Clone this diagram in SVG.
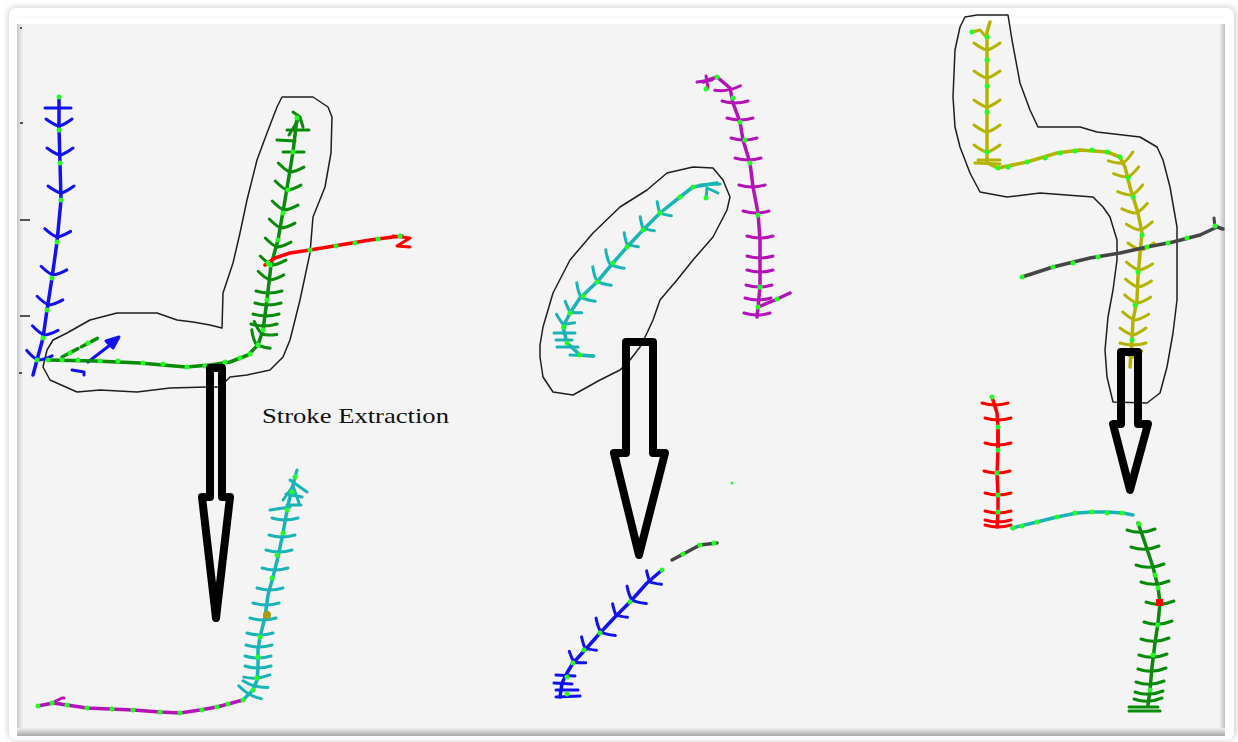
<svg xmlns="http://www.w3.org/2000/svg" xmlns:xlink="http://www.w3.org/1999/xlink" width="1238" height="742" viewBox="0 0 1238 742">
<style>
.ln{fill:none;stroke-width:3.5;stroke-linecap:round;stroke-linejoin:round}
.bb{fill:none;stroke-width:3;stroke-linecap:round;stroke-linejoin:round}
.ol{fill:none;stroke:#1e1e1e;stroke-width:1.5;stroke-linejoin:round}
.ar{fill:none;stroke:#000;stroke-width:8;stroke-linejoin:round}
.blue{stroke:#1212f0}.grn{stroke:#0a8a0a}.red{stroke:#f00}.cyan{stroke:#1ab4b8}.mag{stroke:#b412b8}.oli{stroke:#b4b400}.dk{stroke:#454545}
.n{fill:#22ff22}
.lbl{font-family:"Liberation Serif","Times New Roman",serif;font-size:22px;fill:#111}
</style>
<defs>
<path id="V" d="M-13,-7 Q-5,-1 0,0 Q5,-1 13,-7"/>
<path id="v" d="M-10,-6 Q-3,-1 0,0 Q3,-1 10,-6"/>
<path id="H" d="M-13,-2 Q0,2 13,-2"/>
<path id="U" d="M-14,-3 Q0,2 14,-4"/>
<circle id="d" r="2.5"/>
<filter id="sh" x="-5%" y="-5%" width="110%" height="110%"><feGaussianBlur stdDeviation="3"/></filter>
<linearGradient id="gl" x1="0" x2="1"><stop offset="0" stop-color="#c8c8c8"/><stop offset="1" stop-color="#f4f4f4"/></linearGradient>
<linearGradient id="gb" x1="0" x2="0" y1="0" y2="1"><stop offset="0" stop-color="#f0f0f0"/><stop offset="1" stop-color="#a8a8a8"/></linearGradient>
<linearGradient id="gr" x1="0" x2="1"><stop offset="0" stop-color="#f4f4f4"/><stop offset="1" stop-color="#c0c0c0"/></linearGradient>
</defs>

<g id="frame">
<rect width="1238" height="742" fill="#fff"/>
<rect x="8" y="7" width="1228" height="733" rx="8" fill="#d0d0d0" filter="url(#sh)"/>
<rect x="9" y="8" width="1225" height="732" rx="7" fill="#fff"/>
<line x1="17" y1="17" x2="1224" y2="17" stroke="#f2f2f2" stroke-width="1"/>
<rect x="17" y="24" width="1207" height="708" fill="#f4f4f4"/>
<rect x="17" y="24" width="6" height="708" fill="url(#gl)"/>
<rect x="1219" y="24" width="6" height="710" fill="url(#gr)"/>
<rect x="17" y="728" width="1208" height="8" fill="url(#gb)"/>
<path d="M20,28h2M20,123h3M20,220h10M20,316h10M19,373h3" stroke="#222" stroke-width="1.5"/>
</g>

<g id="outlines">
<path class="ol" d="M282,97 L313,97 L328,107 L332,117 L331,153 L325,187 L313,217 L310,253 L300,300 L290,340 L283,357 L270,370 L247,375 L230,377 L220,387 L207,387 L170,388 L137,392 L100,390 L77,392 L50,380 L43,367 L47,350 L53,340 L67,333 L90,320 L117,313 L157,313 L177,320 L193,322 L210,325 L222,328 L223,293 L233,263 L240,233 L247,200 L257,160 L267,133 L277,107 Z"/>
<path class="ol" d="M693,167 L713,168 L723,180 L730,197 L727,210 L713,237 L693,260 L677,280 L660,300 L653,320 L647,333 L640,347 L630,360 L620,370 L600,380 L573,395 L553,392 L543,377 L540,357 L540,345 L543,327 L553,293 L570,260 L593,233 L620,207 L647,190 L667,173 Z"/>
<path class="ol" d="M965,17 L977,15 L1008,15 L1012,40 L1020,83 L1030,110 L1038,127 L1080,127 L1097,132 L1140,137 L1157,147 L1163,160 L1170,187 L1177,227 L1177,300 L1173,333 L1167,367 L1160,393 L1147,403 L1113,402 L1107,377 L1105,350 L1108,317 L1113,290 L1117,260 L1117,240 L1110,217 L1103,207 L1093,197 L1040,193 L1007,197 L980,192 L970,173 L960,147 L955,127 L953,97 L955,50 L960,27 Z"/>
</g>

<g id="left-input">
<polyline class="ln blue" points="59,97 59,128 60,163 61,200 57,242 52,278 47,310 43,338 37,360 33,375"/>
<g class="bb blue">
<path d="M45,108 L71,108"/>
<use href="#V" transform="translate(59,126)"/><use href="#V" transform="translate(60,155)"/><use href="#V" transform="translate(61,193)"/><use href="#V" transform="translate(57,237) rotate(6)"/><use href="#V" transform="translate(53,275) rotate(8)"/><use href="#V" transform="translate(49,305) rotate(8)"/><use href="#V" transform="translate(44,335) rotate(10)"/><use href="#V" transform="translate(38,360) rotate(12)"/>
<path d="M88,362 L114,342"/><path d="M119,337 L106,341 L113,348 Z" fill="#1212f0"/>
<path d="M72,370 L84,372 L84,375"/>
</g>
<polyline class="ln grn" points="297,118 293,152 285,200 278,240 271,265 267,300 263,330 258,345 248,355 230,362 210,365 186,367 140,363 95,361 48,360"/>
<path class="ln grn" d="M62,357 L100,337" stroke-dasharray="7,4"/>
<g class="bb grn">
<path d="M287,130 L309,130 M277,140 L295,141 M283,152 L304,152 M289,135 L300,117 L303,127 M293,112 L300,117"/>
<use href="#V" transform="translate(290,172) rotate(9)"/><use href="#V" transform="translate(287,190) rotate(9)"/><use href="#V" transform="translate(284,210) rotate(9)"/><use href="#V" transform="translate(281,228) rotate(9)"/><use href="#V" transform="translate(277,247) rotate(9)"/><use href="#V" transform="translate(272,265) rotate(9)"/><use href="#V" transform="translate(270,280) rotate(8)"/>
<use href="#H" transform="translate(269,293)"/><use href="#H" transform="translate(268,305)"/><use href="#H" transform="translate(266,316)"/><use href="#H" transform="translate(264,326)"/>
<use href="#V" transform="translate(262,334) rotate(30)"/><use href="#V" transform="translate(256,344) rotate(45)"/>
</g>
<polyline class="ln red" points="265,265 275,258 290,253 310,250 340,245 370,240 393,237 402,236"/>
<path class="bb red" d="M393,236 L410,238 L397,246 L410,247"/>
<g class="n">
<use href="#d" x="59" y="97"/><use href="#d" x="59" y="130"/><use href="#d" x="60" y="163"/><use href="#d" x="61" y="200"/><use href="#d" x="57" y="242"/><use href="#d" x="52" y="278"/><use href="#d" x="47" y="310"/><use href="#d" x="43" y="338"/><use href="#d" x="37" y="360"/>
<use href="#d" x="48" y="360"/><use href="#d" x="62" y="360"/><use href="#d" x="78" y="360"/><use href="#d" x="100" y="361"/><use href="#d" x="118" y="361"/><use href="#d" x="143" y="363"/><use href="#d" x="163" y="364"/><use href="#d" x="187" y="367"/><use href="#d" x="205" y="366"/><use href="#d" x="225" y="362"/><use href="#d" x="240" y="358"/><use href="#d" x="250" y="354"/><use href="#d" x="258" y="345"/><use href="#d" x="263" y="330"/><use href="#d" x="267" y="300"/><use href="#d" x="270" y="265"/><use href="#d" x="278" y="240"/><use href="#d" x="283" y="213"/><use href="#d" x="288" y="190"/><use href="#d" x="293" y="152"/><use href="#d" x="297" y="118"/>
<use href="#d" x="70" y="353"/><use href="#d" x="88" y="343"/>
<use href="#d" x="268" y="263"/><use href="#d" x="310" y="250"/><use href="#d" x="336" y="246"/><use href="#d" x="355" y="243"/><use href="#d" x="378" y="239"/><use href="#d" x="400" y="236"/>
</g>
</g>

<g id="left-arrow">
<path class="ar" d="M210,368 L222,368 L222,497 L230,497 L216,618 L202,497 L210,497 Z"/>
</g>
<text class="lbl" x="262" y="423" textLength="187" lengthAdjust="spacingAndGlyphs">Stroke Extraction</text>

<g id="left-output">
<polyline class="ln cyan" points="295,477 293,485 288,505 283,533 278,557 273,577 268,595 265,617 260,637 258,650 258,668 257,680 253,690 243,700"/>
<g class="bb cyan">
<path d="M290,480 L307,492 M295,477 L297,470 M283,500 L293,486 L299,503 M270,510 L290,507 M286,494 L302,497 M287,505 L301,505"/>
<use href="#H" transform="translate(285,520)"/><use href="#H" transform="translate(282,537)"/><use href="#H" transform="translate(279,552)"/><use href="#H" transform="translate(275,570)"/><use href="#H" transform="translate(270,590)"/><use href="#H" transform="translate(266,605)"/><use href="#H" transform="translate(263,620)"/><use href="#H" transform="translate(260,635)"/><use href="#H" transform="translate(259,647)"/><use href="#H" transform="translate(258,658)"/><use href="#H" transform="translate(258,668)"/><use href="#H" transform="translate(257,678) rotate(-5)"/><use href="#H" transform="translate(255,686) rotate(15)"/><use href="#H" transform="translate(249,694) rotate(30)"/>
</g>
<circle cx="267" cy="615" r="4" fill="#a89a10"/>
<polyline class="ln mag" points="243,700 217,707 200,710 180,713 160,712 133,710 87,708 67,705 53,703 38,706"/>
<path class="bb mag" d="M52,703 L62,698 L64,698"/>
<g class="n">
<use href="#d" x="295" y="477"/><use href="#d" x="292" y="492"/><use href="#d" x="287" y="510"/><use href="#d" x="283" y="533"/><use href="#d" x="277" y="555"/><use href="#d" x="272" y="578"/><use href="#d" x="260" y="637"/><use href="#d" x="258" y="657"/><use href="#d" x="257" y="678"/><use href="#d" x="253" y="690"/><use href="#d" x="243" y="700"/>
<use href="#d" x="38" y="706"/><use href="#d" x="52" y="703"/><use href="#d" x="67" y="705"/><use href="#d" x="87" y="708"/><use href="#d" x="112" y="709"/><use href="#d" x="133" y="710"/><use href="#d" x="160" y="712"/><use href="#d" x="180" y="713"/><use href="#d" x="202" y="710"/><use href="#d" x="217" y="707"/><use href="#d" x="228" y="704"/>
</g>
</g>

<g id="middle-input">
<polyline class="ln cyan" points="717,183 693,187 680,197 660,213 643,230 627,247 613,263 597,282 580,298 570,313 563,327 567,343 580,355 593,356"/>
<g class="bb cyan">
<path d="M700,185 L720,184 M707,188 L718,193 M707,188 L706,198"/>
<use href="#v" transform="translate(660,213) rotate(45)"/><use href="#v" transform="translate(643,228) rotate(45)"/><use href="#v" transform="translate(627,244) rotate(45)"/><use href="#V" transform="translate(610,264) rotate(45)"/><use href="#V" transform="translate(597,281) rotate(45)"/><use href="#V" transform="translate(581,297) rotate(45)"/><use href="#v" transform="translate(570,312) rotate(35)"/><use href="#v" transform="translate(563,324) rotate(25)"/>
<path d="M554,333 L575,333 M556,340 L572,340 M557,347 L578,347 M570,355 L594,356"/>
</g>
<polyline class="ln mag" points="703,82 717,77 730,88 733,103 740,122 743,140 750,163 753,187 758,213 760,240 760,260 760,287 758,307 757,317"/>
<polyline class="ln mag" points="758,307 775,300 790,293"/>
<g class="bb mag">
<path d="M697,82 L712,80 M706,76 L708,88"/>
<use href="#H" transform="translate(728,90) rotate(-10)"/><use href="#H" transform="translate(735,103)"/><use href="#H" transform="translate(740,120)"/><use href="#H" transform="translate(744,140)"/><use href="#H" transform="translate(748,160)"/><use href="#H" transform="translate(752,187)"/><use href="#H" transform="translate(756,213)"/><use href="#H" transform="translate(760,238)"/><use href="#H" transform="translate(760,258)"/><use href="#H" transform="translate(760,272)"/><use href="#H" transform="translate(759,287)"/><use href="#H" transform="translate(758,300)"/><use href="#H" transform="translate(757,315)"/>
</g>
<g class="n">
<use href="#d" x="693" y="187"/><use href="#d" x="680" y="197"/><use href="#d" x="660" y="213"/><use href="#d" x="643" y="230"/><use href="#d" x="627" y="247"/><use href="#d" x="613" y="263"/><use href="#d" x="597" y="282"/><use href="#d" x="583" y="296"/><use href="#d" x="570" y="313"/><use href="#d" x="564" y="327"/><use href="#d" x="567" y="343"/><use href="#d" x="580" y="355"/><use href="#d" x="706" y="198"/>
<use href="#d" x="706" y="89"/><use href="#d" x="717" y="77"/><use href="#d" x="733" y="98"/><use href="#d" x="740" y="122"/><use href="#d" x="745" y="140"/><use href="#d" x="750" y="163"/><use href="#d" x="758" y="215"/><use href="#d" x="760" y="287"/><use href="#d" x="758" y="307"/><use href="#d" x="777" y="299"/>
</g>
</g>

<g id="middle-arrow">
<path class="ar" d="M626,342 L653,342 L653,453 L665,453 L639,555 L614,453 L626,453 Z"/>
</g>

<g id="middle-output">
<polyline class="ln blue" points="662,570 647,583 630,602 615,617 600,633 585,650 573,663 567,673 562,683 560,697"/>
<g class="bb blue">
<use href="#v" transform="translate(650,582) rotate(42)"/><use href="#V" transform="translate(632,600) rotate(42)"/><use href="#v" transform="translate(616,615) rotate(42)"/><use href="#V" transform="translate(601,632) rotate(42)"/><use href="#v" transform="translate(585,648) rotate(42)"/><use href="#v" transform="translate(574,662) rotate(35)"/>
<path d="M556,675 L575,676 M554,683 L572,684 M556,690 L578,690 M556,697 L580,696"/>
</g>
<polyline class="ln dk" points="672,560 687,552 700,545 717,543"/>
<g class="n">
<use href="#d" x="662" y="570"/><use href="#d" x="630" y="602"/><use href="#d" x="600" y="633"/><use href="#d" x="584" y="650"/><use href="#d" x="573" y="663"/><use href="#d" x="567" y="677"/><use href="#d" x="567" y="694"/>
<use href="#d" x="683" y="554"/><use href="#d" x="700" y="545"/><use href="#d" x="714" y="543"/>
<circle cx="732" cy="483" r="1.5"/>
</g>
</g>

<g id="right-input">
<polyline class="ln oli" points="990,22 987,32 987,163 998,168 1027,162 1057,153 1080,150 1107,152 1120,157 1125,167 1130,187 1138,213 1142,233 1140,253 1138,277 1137,300 1133,320 1132,340 1130,367"/>
<g class="bb oli">
<path d="M972,32 L980,30 L987,38"/>
<use href="#V" transform="translate(987,50)"/><use href="#V" transform="translate(987,78)"/><use href="#V" transform="translate(987,107)"/><use href="#V" transform="translate(987,132)"/><use href="#V" transform="translate(987,152)"/><path d="M975,163 L1000,164 M978,160 L1000,160"/>
<use href="#V" transform="translate(1123,163) rotate(-20)"/><use href="#V" transform="translate(1128,177) rotate(-15)"/><use href="#V" transform="translate(1132,195) rotate(-15)"/><use href="#V" transform="translate(1136,213) rotate(-12)"/><use href="#V" transform="translate(1140,230) rotate(-5)"/><use href="#V" transform="translate(1141,250)"/><use href="#V" transform="translate(1139,270) rotate(4)"/><use href="#V" transform="translate(1138,287) rotate(4)"/><use href="#V" transform="translate(1137,303) rotate(5)"/><use href="#V" transform="translate(1135,320) rotate(5)"/><use href="#V" transform="translate(1133,335)"/><use href="#H" transform="translate(1133,345)"/><use href="#v" transform="translate(1132,357)"/>
</g>
<polyline class="ln dk" points="1022,277 1053,267 1090,258 1120,253 1147,247 1173,242 1200,235 1217,227 1223,229"/>
<path class="bb dk" d="M1215,227 L1214,218"/>
<g class="n">
<use href="#d" x="972" y="32"/><use href="#d" x="987" y="37"/><use href="#d" x="987" y="60"/><use href="#d" x="987" y="86"/><use href="#d" x="987" y="112"/><use href="#d" x="987" y="152"/><use href="#d" x="998" y="168"/><use href="#d" x="1008" y="167"/><use href="#d" x="1027" y="162"/><use href="#d" x="1045" y="158"/><use href="#d" x="1060" y="153"/><use href="#d" x="1075" y="151"/><use href="#d" x="1092" y="150"/><use href="#d" x="1107" y="152"/><use href="#d" x="1120" y="157"/><use href="#d" x="1128" y="178"/><use href="#d" x="1133" y="197"/><use href="#d" x="1142" y="235"/><use href="#d" x="1138" y="272"/><use href="#d" x="1135" y="305"/><use href="#d" x="1132" y="340"/>
<use href="#d" x="1022" y="277"/><use href="#d" x="1053" y="267"/><use href="#d" x="1073" y="263"/><use href="#d" x="1098" y="257"/><use href="#d" x="1147" y="247"/><use href="#d" x="1168" y="243"/><use href="#d" x="1187" y="238"/><use href="#d" x="1215" y="226"/>
</g>
</g>

<g id="right-arrow">
<path class="ar" d="M1121,352 L1138,352 L1138,424 L1148,424 L1130,490 L1113,424 L1121,424 Z"/>
</g>

<g id="right-output">
<polyline class="ln red" points="992,397 997,413 998,427 998,450 997,473 998,495 998,513 997,527"/>
<path class="ln red" d="M998,427 L998,450" stroke-width="5"/>
<g class="bb red">
<use href="#H" transform="translate(995,405)"/><use href="#H" transform="translate(998,420)"/><use href="#H" transform="translate(998,445)"/><use href="#H" transform="translate(997,473)"/><use href="#H" transform="translate(998,495)"/><use href="#H" transform="translate(998,513)"/><use href="#H" transform="translate(998,522)"/><use href="#H" transform="translate(998,527)"/>
</g>
<polyline class="ln cyan" points="1012,528 1037,522 1057,517 1077,513 1093,512 1107,512 1123,513 1133,515"/>
<polyline class="ln grn" points="1138,523 1145,543 1153,567 1158,587 1160,603 1158,623 1155,643 1152,667 1150,690 1148,705"/>
<g class="bb grn">
<use href="#U" transform="translate(1141,533)"/><use href="#U" transform="translate(1145,550)"/><use href="#U" transform="translate(1150,568)"/><use href="#U" transform="translate(1155,585)"/><use href="#U" transform="translate(1160,605)"/><use href="#U" transform="translate(1158,625)"/><use href="#U" transform="translate(1155,642)"/><use href="#U" transform="translate(1153,658)"/><use href="#U" transform="translate(1152,672)"/><use href="#U" transform="translate(1150,685)"/><use href="#U" transform="translate(1149,695)"/><use href="#U" transform="translate(1148,702)"/>
<path d="M1129,707 L1158,707 M1129,711 L1160,711" stroke-width="3"/>
</g>
<rect x="1156" y="599" width="7" height="7" fill="#f00"/>
<g class="n">
<use href="#d" x="992" y="397"/><use href="#d" x="998" y="427"/><use href="#d" x="998" y="450"/><use href="#d" x="997" y="473"/><use href="#d" x="998" y="495"/><use href="#d" x="998" y="512"/>
<use href="#d" x="1013" y="528"/><use href="#d" x="1022" y="526"/><use href="#d" x="1037" y="522"/><use href="#d" x="1057" y="517"/><use href="#d" x="1075" y="513"/><use href="#d" x="1092" y="512"/><use href="#d" x="1107" y="513"/><use href="#d" x="1122" y="513"/>
<use href="#d" x="1139" y="524"/><use href="#d" x="1155" y="575"/><use href="#d" x="1158" y="588"/><use href="#d" x="1158" y="625"/><use href="#d" x="1153" y="655"/><use href="#d" x="1150" y="690"/>
</g>
</g>
</svg>
